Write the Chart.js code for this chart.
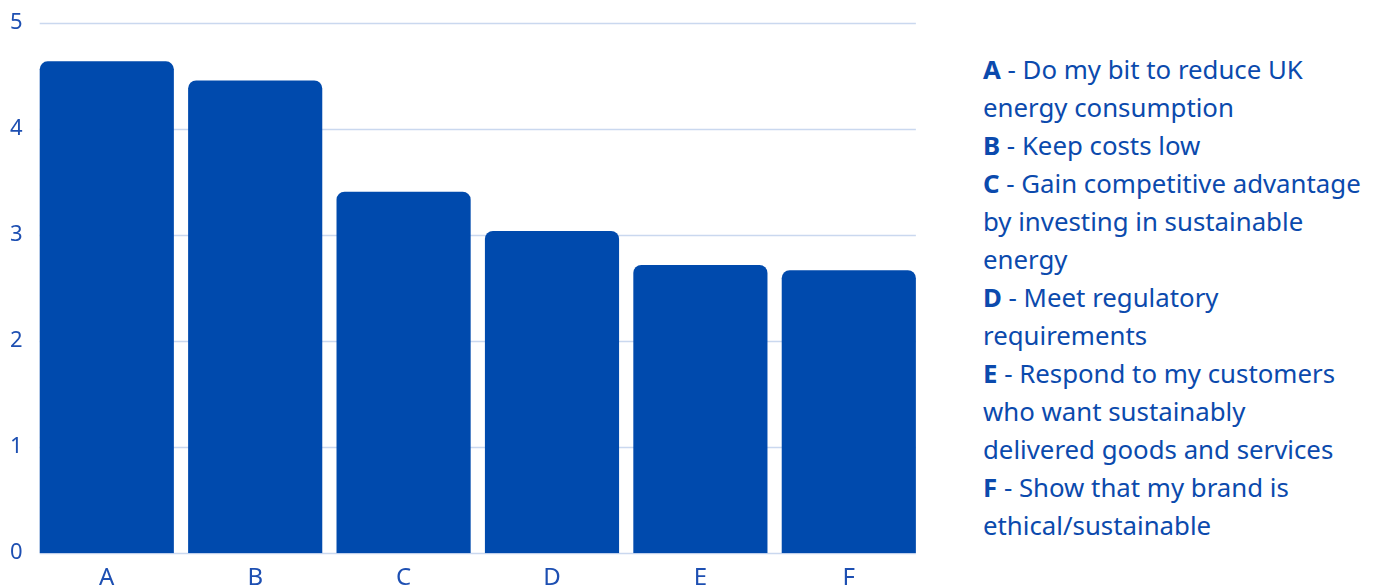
<!DOCTYPE html>
<html>
<head>
<meta charset="utf-8">
<script src="https://cdn.jsdelivr.net/npm/chart.js@4/dist/chart.umd.min.js"></script>
<style>
  html, body { margin: 0; padding: 0; background: #fff; overflow: hidden; }
  body { width: 1383px; height: 585px; position: relative; }
  .chart-wrapper { position: absolute; left: 0; top: 0; width: 923px; height: 596px; }
  .notes {
    position: absolute; left: 983px; top: 50px; width: 400px;
    font-family: "Noto Sans", sans-serif; font-size: 25.8px; line-height: 38px;
    color: #0b4aad; white-space: nowrap;
  }
  .notes b { font-weight: 700; }
</style>
</head>
<body>
<div class="chart-wrapper"><canvas id="chart"></canvas></div>
<div class="notes" id="notes"></div>
<script>
const categories = ['A', 'B', 'C', 'D', 'E', 'F'];
const scores = [4.64, 4.46, 3.41, 3.04, 2.72, 2.67];
const yTicks = [0, 1, 2, 3, 4, 5];
// descriptions, split where the reference wraps them
const descriptions = [
  ['Do my bit to reduce UK', 'energy consumption'],
  ['Keep costs low'],
  ['Gain competitive advantage', 'by investing in sustainable', 'energy'],
  ['Meet regulatory', 'requirements'],
  ['Respond to my customers', 'who want sustainably', 'delivered goods and services'],
  ['Show that my brand is', 'ethical/sustainable']
];

const blue = '#004aad';
const textBlue = '#1d4fb2';
const gridBlue = '#cad8ef';

document.getElementById('notes').innerHTML = categories.map((c, i) =>
  '<b>' + c + '</b> - ' + descriptions[i].join('<br>')
).join('<br>');

// horizontal grid lines only span from the first bar's left edge to the last bar's right edge
const barGrid = {
  id: 'barGrid',
  beforeDatasetsDraw(chart) {
    const bars = chart.getDatasetMeta(0).data;
    if (!bars.length) return;
    const first = bars[0], last = bars[bars.length - 1];
    const x0 = first.x - first.width / 2;
    const x1 = last.x + last.width / 2;
    const y = chart.scales.y;
    const ctx = chart.ctx;
    ctx.save();
    ctx.strokeStyle = gridBlue;
    ctx.lineWidth = 1.5;
    y.ticks.forEach(t => {
      const py = Math.round(y.getPixelForValue(t.value)) + 0.5;
      ctx.beginPath();
      ctx.moveTo(x0, py);
      ctx.lineTo(x1, py);
      ctx.stroke();
    });
    ctx.restore();
  }
};

new Chart(document.getElementById('chart').getContext('2d'), {
  type: 'bar',
  data: {
    labels: categories,
    datasets: [{
      data: scores,
      backgroundColor: blue,
      borderRadius: 8,
      borderSkipped: 'bottom',
      barPercentage: 0.904,
      categoryPercentage: 1.0
    }]
  },
  options: {
    responsive: true,
    maintainAspectRatio: false,
    animation: false,
    layout: { padding: { left: 0, top: 5, right: 0 } },
    plugins: { legend: { display: false }, tooltip: { enabled: false } },
    scales: {
      x: {
        grid: { display: false },
        border: { display: false },
        ticks: { color: textBlue, padding: 3, font: { family: 'Noto Sans', size: 24 } }
      },
      y: {
        min: 0,
        max: 5,
        afterBuildTicks: axis => { axis.ticks = yTicks.map(v => ({ value: v })); },
        grid: { display: false, drawTicks: false },
        border: { display: false },
        ticks: { color: textBlue, padding: 10, font: { family: 'Noto Sans', size: 22 } }
      }
    }
  },
  plugins: [barGrid]
});
</script>
</body>
</html>
